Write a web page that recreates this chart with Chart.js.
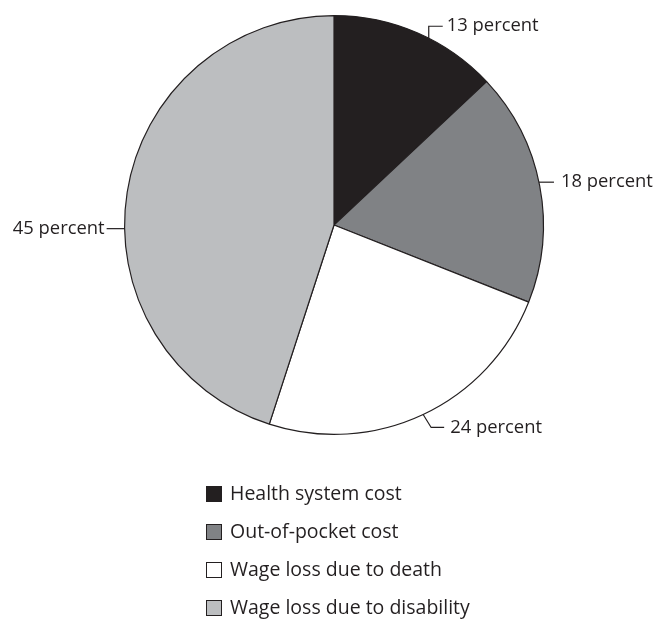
<!DOCTYPE html>
<html>
<head>
<meta charset="utf-8">
<script src="https://cdn.jsdelivr.net/npm/chart.js@4"></script>
<style>
  html, body { margin: 0; padding: 0; background: #fff; }
  #wrap { width: 660px; height: 619px; }
</style>
</head>
<body>
<div id="wrap"><canvas id="pieChart" width="660" height="619"></canvas></div>
<script>
// categories and shares (percent)
const categories = ['Health system cost', 'Out-of-pocket cost', 'Wage loss due to death', 'Wage loss due to disability'];
const shares = [13, 18, 24, 45];
const sliceColors = ['#231f20', '#808285', '#ffffff', '#bcbec0'];

const ink = '#231f20';
const font = '"Open Sans", sans-serif';

// leader line shapes for each label: angle nudge (deg) and a short path from the rim
const leaders = [
  { shift: 3.5, path: [[0, -12], [14, -12]], align: 'left', gap: 4 },
  { shift: -1, path: [[15, 0]], align: 'left', gap: 7 },
  { shift: 0, path: [[8, 13], [21, 13]], align: 'left', gap: 6 },
  { shift: -10, path: [[-18, 0]], align: 'right', gap: 2 }
];

const labelPlugin = {
  id: 'pctLabels',
  afterDatasetsDraw(chart) {
    const ctx = chart.ctx;
    const arcs = chart.getDatasetMeta(0).data;
    ctx.save();
    ctx.strokeStyle = ink;
    ctx.lineWidth = 1.2;
    ctx.fillStyle = ink;
    ctx.font = '18.4px ' + font;
    ctx.textBaseline = 'middle';
    arcs.forEach((arc, i) => {
      const ld = leaders[i];
      const a = (arc.startAngle + arc.endAngle) / 2 + ld.shift * Math.PI / 180;
      const r = arc.outerRadius;
      const x0 = arc.x + Math.cos(a) * r;
      const y0 = arc.y + Math.sin(a) * r;
      ctx.beginPath();
      ctx.moveTo(x0, y0);
      let ex = x0, ey = y0;
      ld.path.forEach(p => { ex = x0 + p[0]; ey = y0 + p[1]; ctx.lineTo(ex, ey); });
      ctx.stroke();
      ctx.textAlign = ld.align;
      const tx = ld.align === 'left' ? ex + ld.gap : ex - ld.gap;
      ctx.fillText(shares[i] + ' percent', tx, ey);
    });
    ctx.restore();
  }
};

// legend drawn as a single column under the pie
const legendPlugin = {
  id: 'columnLegend',
  afterDraw(chart) {
    const ctx = chart.ctx;
    const left = 206, top = 486, box = 16, step = 38;
    ctx.save();
    ctx.font = '19.5px ' + font;
    ctx.textBaseline = 'middle';
    ctx.textAlign = 'left';
    categories.forEach((c, i) => {
      const y = top + i * step;
      ctx.fillStyle = sliceColors[i];
      ctx.fillRect(left, y, box, box);
      ctx.strokeStyle = ink;
      ctx.lineWidth = 1;
      ctx.strokeRect(left + 0.5, y + 0.5, box - 1, box - 1);
      ctx.fillStyle = ink;
      ctx.fillText(c, left + box + 8, y + box / 2);
    });
    ctx.restore();
  }
};

new Chart(document.getElementById('pieChart').getContext('2d'), {
  type: 'pie',
  data: {
    labels: categories,
    datasets: [{
      data: shares,
      backgroundColor: sliceColors,
      borderColor: ink,
      borderWidth: 1.2,
      hoverOffset: 0
    }]
  },
  options: {
    responsive: false,
    animation: false,
    layout: { padding: { left: 124, right: 116, top: 15, bottom: 184 } },
    plugins: {
      legend: { display: false },
      tooltip: { enabled: false }
    }
  },
  plugins: [labelPlugin, legendPlugin]
});
</script>
</body>
</html>
